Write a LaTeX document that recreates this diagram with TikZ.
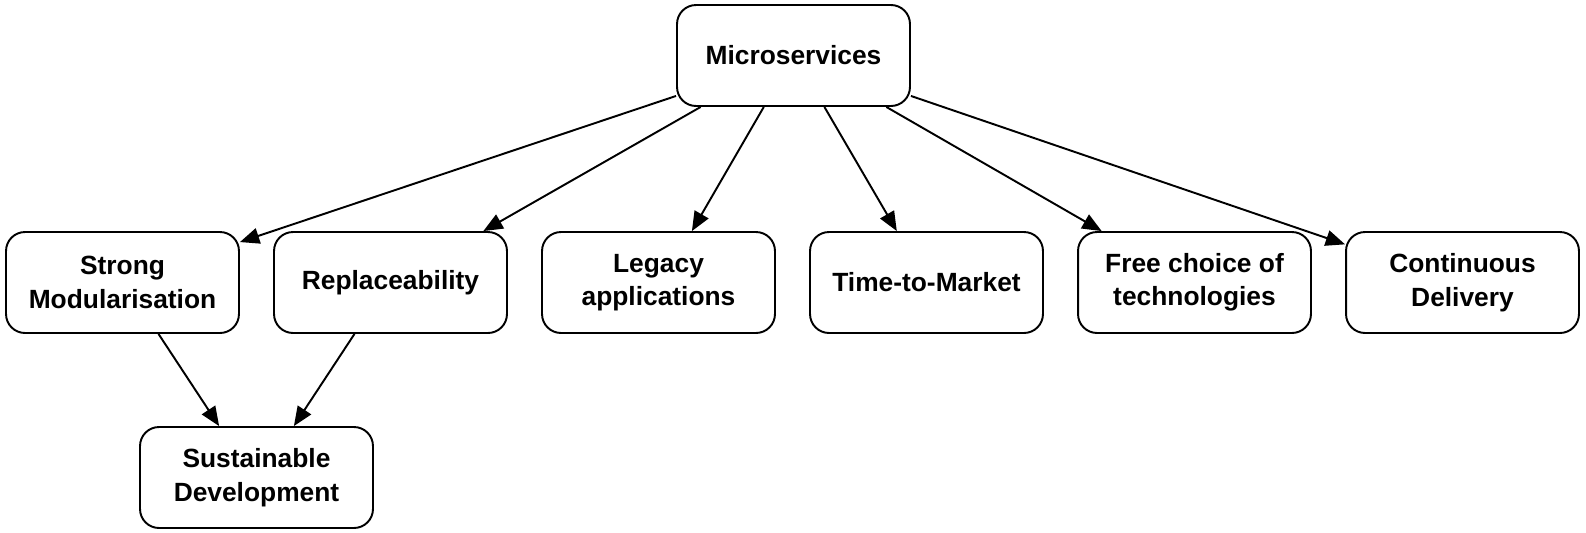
\documentclass[tikz,border=0pt]{standalone}
\usepackage{fontspec}
\setmainfont{Liberation Sans}
\usetikzlibrary{arrows.meta}

\begin{document}
\begin{tikzpicture}[x=0.02cm, y=-0.02cm, line width=1.1pt,
  box/.style={draw, rounded corners=0.38cm, minimum width=4.66cm, minimum height=2.02cm,
    inner sep=0pt, align=center, font=\fontsize{15}{19}\selectfont\bfseries},
  >={Triangle[length=11pt, width=9pt]}]
  \useasboundingbox (0,0) rectangle (1586,532);

  \node[box] (ms) at (793.5,55.5) {Microservices};

  \node[box] (sm) at (122.5,282.5) {Strong\\Modularisation};
  \node[box] (rep) at (390.5,282.5) {Replaceability};
  \node[box] (leg) at (658.5,282.5) {Legacy\\applications};
  \node[box] (ttm) at (926.5,282.5) {Time-to-Market};
  \node[box] (fct) at (1194.5,282.5) {Free choice of\\technologies};
  \node[box] (cd) at (1462.5,282.5) {Continuous\\Delivery};

  \node[box] (sd) at (256.5,477.5) {Sustainable\\Development};

  \foreach \from/\to in {ms.199/sm.19, ms.209/rep.29, ms.240/leg.57, ms.301/ttm.120,
      ms.331/fct.151, ms.341/cd.162, sm.305/sd.126, rep.235/sd.54}
   \draw[->] (\from) -- (\to);
\end{tikzpicture}
\end{document}
